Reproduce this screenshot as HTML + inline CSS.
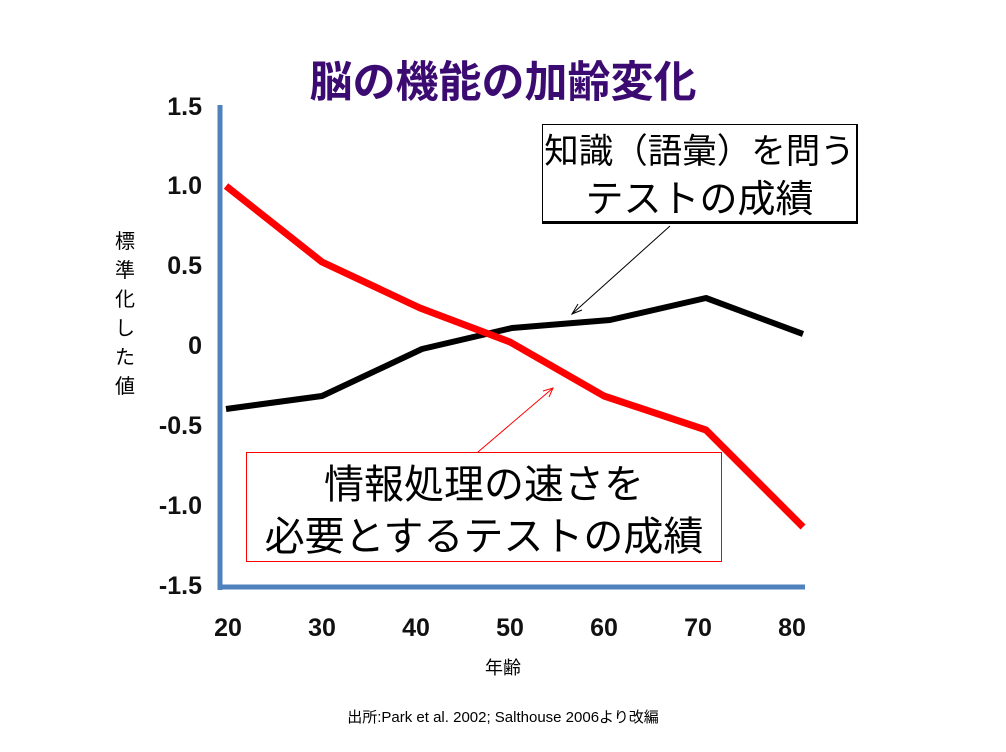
<!DOCTYPE html>
<html><head><meta charset="utf-8"><style>
body{margin:0;width:1006px;height:752px;background:#fff;overflow:hidden;position:relative;font-family:"Liberation Sans","Noto Sans CJK JP",sans-serif}
.t{position:absolute;white-space:nowrap}
.tk{position:absolute;font-size:25px;font-weight:bold;color:#111;width:60px;text-align:right}
.xk{position:absolute;font-size:25px;font-weight:bold;color:#111;width:60px;text-align:center;top:614px}
.box{position:absolute;background:#fff;text-align:center;font-size:40px;line-height:50px;color:#000;font-family:"Noto Sans CJK JP",sans-serif;white-space:nowrap;overflow:hidden}
</style></head><body>
<div class="t" style="left:0;width:1006px;text-align:center;top:48px;font-size:43px;font-weight:bold;color:#3b0b72">脳の機能の加齢変化</div>
<div class="tk" style="left:142px;top:93px">1.5</div>
<div class="tk" style="left:142px;top:172px">1.0</div>
<div class="tk" style="left:142px;top:252px">0.5</div>
<div class="tk" style="left:142px;top:332px">0</div>
<div class="tk" style="left:142px;top:412px">-0.5</div>
<div class="tk" style="left:142px;top:492px">-1.0</div>
<div class="tk" style="left:142px;top:572px">-1.5</div>
<div class="xk" style="left:198px">20</div>
<div class="xk" style="left:292px">30</div>
<div class="xk" style="left:386px">40</div>
<div class="xk" style="left:480px">50</div>
<div class="xk" style="left:574px">60</div>
<div class="xk" style="left:668px">70</div>
<div class="xk" style="left:762px">80</div>
<div class="t" style="left:112px;top:228px;width:26px;font-size:20px;line-height:29px;white-space:normal;text-align:center">標準化した値</div>
<div class="t" style="left:0;width:1006px;text-align:center;top:654px;font-size:18px">年齢</div>
<div class="t" style="left:0;width:1006px;text-align:center;top:706px;font-size:15px">出所:Park et al. 2002; Salthouse 2006より改編</div>
<svg width="1006" height="752" style="position:absolute;left:0;top:0">
<line x1="220" y1="105" x2="220" y2="590" stroke="#4f81bd" stroke-width="5"/>
<line x1="218" y1="587" x2="805" y2="587" stroke="#4f81bd" stroke-width="5"/>
<polyline points="226,409 322,396 422,349 512,328 610,320 706,298 803,334" fill="none" stroke="#000" stroke-width="6" stroke-linejoin="round"/>
<polyline points="226,186 322,262 420,308 510,342 604,396 706,430 803,527" fill="none" stroke="#f00" stroke-width="7" stroke-linejoin="round"/>
<line x1="670" y1="226" x2="572" y2="314" stroke="#000" stroke-width="1"/>
<polyline points="578,304 572,314 582,310" fill="none" stroke="#000" stroke-width="1"/>
<line x1="478" y1="452" x2="553" y2="388" stroke="#f00" stroke-width="1"/>
<polyline points="543,391 553,388 549,397" fill="none" stroke="#f00" stroke-width="1"/>
</svg>
<div class="box" style="left:542px;top:124px;width:316px;height:100px;border:1px solid #000;border-right-width:2px;border-bottom-width:3px;box-sizing:border-box;line-height:47px;font-size:34.5px">知識（語彙）を問う<br><span style="font-size:38px">テストの成績</span></div>
<div class="box" style="left:246px;top:452px;width:476px;height:110px;border:1px solid #f00;box-sizing:border-box;line-height:52px;padding-top:2px">情報処理の速さを<br>必要とするテストの成績</div>
</body></html>
